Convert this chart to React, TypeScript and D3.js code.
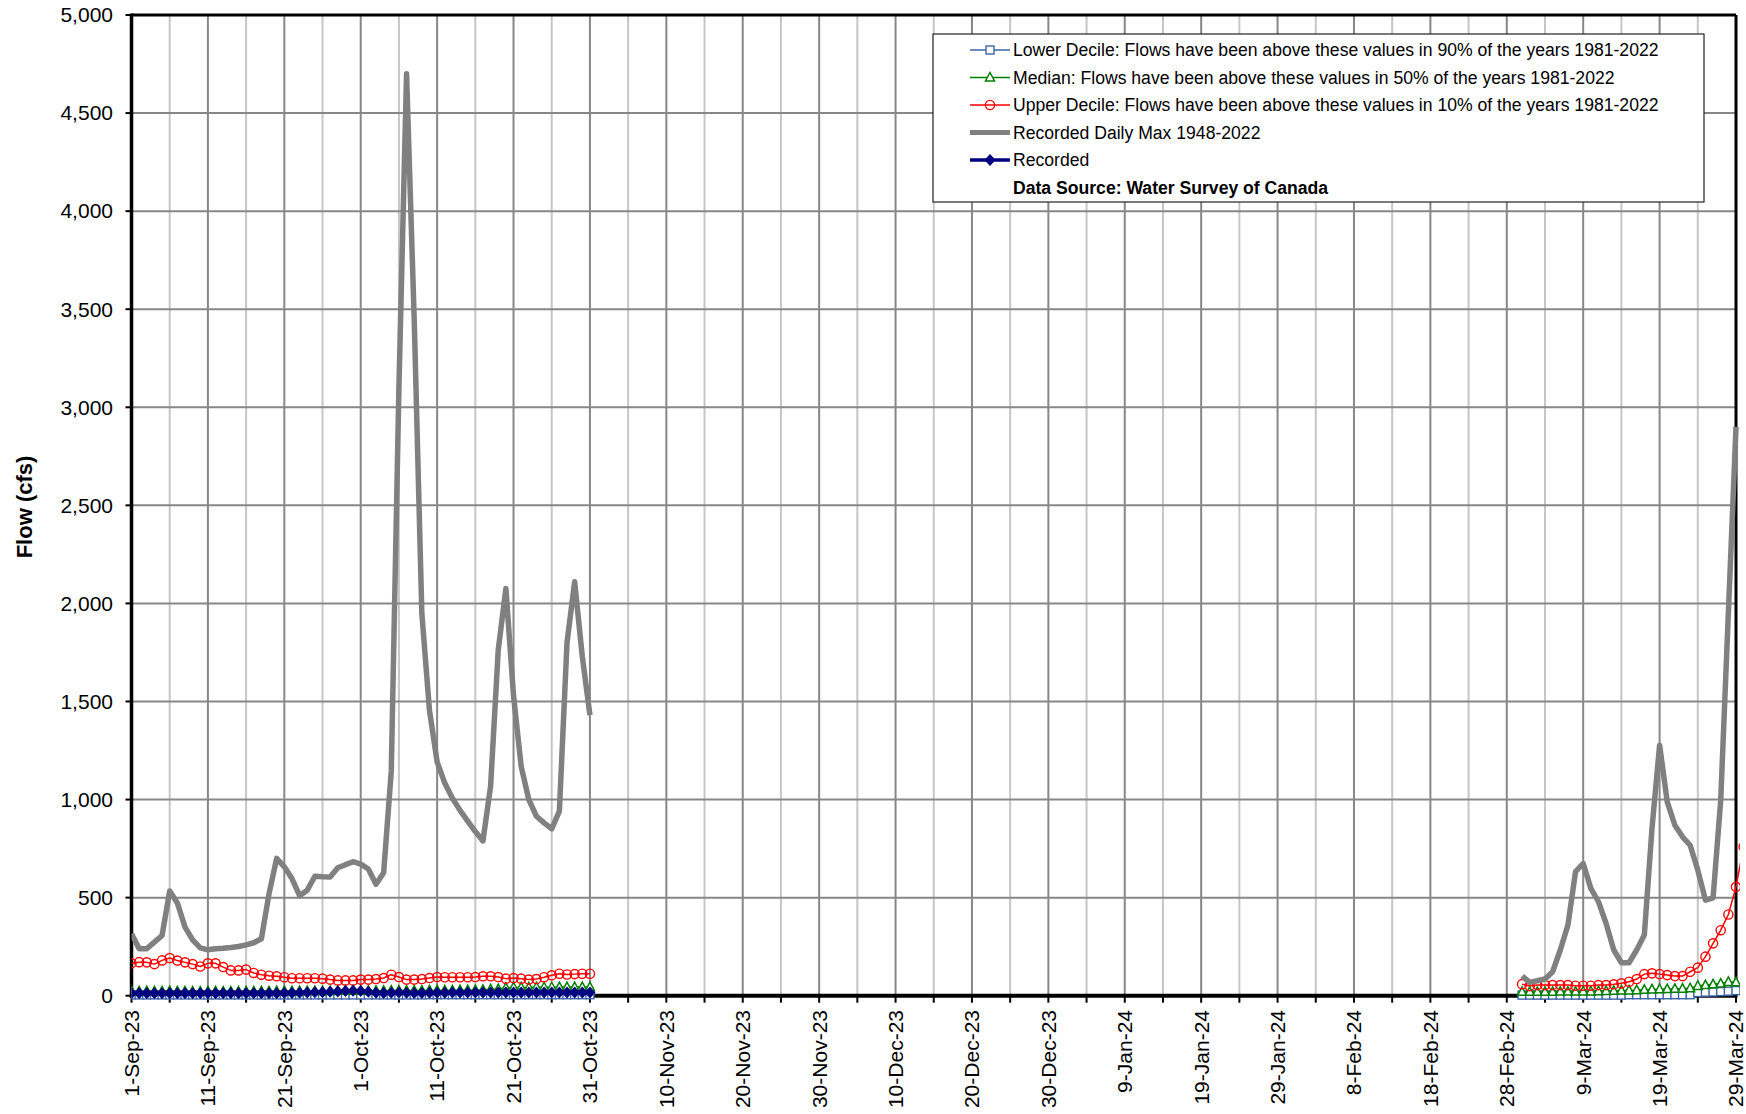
import React from 'react'
import * as d3 from 'd3'

// daily flows, fall block starts 1-Sep-23, spring block starts 1-Mar-24
const fallStart = new Date(2023, 8, 1)
const springStart = new Date(2024, 2, 1)

const maxFall = [316, 240, 240, 273, 307, 534, 473, 350, 285, 244, 234, 239, 242, 246, 251, 259, 270, 290, 520, 700, 657, 597, 510, 538, 609, 606, 605, 652, 668, 683, 671, 646, 568, 627, 1146, 3100, 4700, 3450, 1950, 1454, 1192, 1084, 1007, 945, 890, 837, 789, 1068, 1763, 2076, 1530, 1169, 1000, 915, 881, 851, 941, 1800, 2110, 1730, 1430]
const upperFall = [165, 171, 170, 161, 180, 192, 179, 170, 161, 149, 165, 165, 146, 129, 129, 133, 116, 107, 102, 99, 94, 89, 89, 89, 89, 87, 82, 78, 78, 78, 82, 82, 85, 90, 107, 95, 82, 82, 85, 90, 95, 94, 94, 94, 94, 95, 99, 99, 95, 87, 90, 87, 82, 85, 94, 104, 112, 108, 110, 112, 112]
const medianFall = [22, 22, 23, 22, 22, 23, 22, 22, 21, 21, 22, 22, 21, 21, 21, 22, 22, 22, 22, 23, 23, 23, 23, 24, 24, 24, 24, 25, 25, 25, 25, 25, 25, 25, 26, 26, 26, 26, 26, 27, 27, 27, 27, 28, 28, 28, 30, 32, 34, 40, 42, 42, 42, 43, 43, 43, 44, 44, 44, 44, 44]
const lowerFall = [4, 4, 4, 4, 4, 4, 4, 4, 4, 4, 4, 4, 4, 4, 4, 4, 4, 4, 4, 4, 4, 4, 4, 4, 4, 4, 4, 4, 4, 4, 4, 4, 4, 4, 4, 4, 4, 4, 4, 5, 5, 5, 5, 5, 5, 5, 5, 5, 5, 5, 5, 5, 5, 5, 5, 5, 5, 5, 5, 5, 5]
const recordedFall = [12, 12, 12, 12, 12, 12, 12, 12, 12, 12, 12, 12, 12, 12, 12, 12, 13, 13, 13, 13, 14, 14, 15, 16, 17, 18, 20, 22, 24, 25, 24, 20, 15, 14, 15, 16, 15, 14, 14, 15, 15, 15, 16, 16, 16, 16, 16, 16, 16, 16, 16, 16, 16, 16, 16, 16, 16, 16, 16, 16, 16]

const maxSpring = [100, 68, 76, 85, 122, 233, 360, 632, 674, 547, 479, 368, 233, 168, 168, 233, 309, 850, 1277, 988, 869, 810, 767, 640, 487, 499, 997, 1950, 2900]
const upperSpring = [59, 49, 54, 54, 54, 54, 54, 51, 51, 51, 54, 54, 58, 63, 71, 85, 110, 114, 110, 105, 100, 100, 122, 143, 199, 267, 334, 414, 555, 760]
const medianSpring = [20, 20, 20, 20, 20, 21, 21, 21, 22, 22, 23, 24, 25, 26, 27, 28, 30, 32, 33, 34, 35, 36, 38, 50, 54, 58, 62, 70, 68]
const lowerSpring = [3, 3, 3, 3, 3, 3, 3, 3, 3, 3, 3, 3, 3, 3, 5, 5, 5, 5, 5, 5, 5, 5, 5, 16, 18, 19, 21, 23, 26]

const yTicks = [0, 500, 1000, 1500, 2000, 2500, 3000, 3500, 4000, 4500, 5000]

const legendItems = [
  'Lower Decile: Flows have been above these values in 90% of the years 1981-2022',
  'Median: Flows have been above these values in 50% of the years 1981-2022',
  'Upper Decile: Flows have been above these values in 10% of the years 1981-2022',
  'Recorded Daily Max 1948-2022',
  'Recorded',
]

type Pt = [Date, number]
const toPts = (start: Date, vals: number[]): Pt[] => vals.map((v, i) => [d3.timeDay.offset(start, i), v])

const W = 1746
const H = 1114
const left = 131.5
const right = 1736
const top = 15
const bottom = 995.7
const font = 'Arial, "Liberation Sans", sans-serif'

const BLUE = '#3B64A8'
const GREEN = '#008000'
const RED = '#FF0000'
const GRAY = '#808080'
const NAVY = '#000080'

export default function App() {
  const endDate = new Date(2024, 2, 29)
  const x = d3.scaleTime().domain([fallStart, endDate]).range([left, right])
  const y = d3.scaleLinear().domain([0, 5000]).range([bottom, top])
  const line = d3.line<Pt>().x(d => x(d[0])).y(d => y(d[1]))

  const dayTicks = d3.timeDay.range(fallStart, d3.timeDay.offset(endDate, 1), 5)
  const fmt = d3.timeFormat('%-d-%b-%y')

  const series = [
    { key: 'lower', color: BLUE, width: 1.5, marker: 'square', parts: [toPts(fallStart, lowerFall), toPts(springStart, lowerSpring)] },
    { key: 'median', color: GREEN, width: 1.5, marker: 'triangle', parts: [toPts(fallStart, medianFall), toPts(springStart, medianSpring)] },
    { key: 'upper', color: RED, width: 1.5, marker: 'circle', parts: [toPts(fallStart, upperFall), toPts(springStart, upperSpring)] },
    { key: 'max', color: GRAY, width: 5.5, marker: 'none', parts: [toPts(fallStart, maxFall), toPts(springStart, maxSpring)] },
    { key: 'rec', color: NAVY, width: 3.5, marker: 'diamond', parts: [toPts(fallStart, recordedFall)] },
  ]

  const marker = (kind: string, color: string, cx: number, cy: number, k: string) => {
    if (kind === 'square') return <rect key={k} x={cx - 4} y={cy - 4} width={8} height={8} fill="white" stroke={color} strokeWidth={1.4} />
    if (kind === 'triangle') return <path key={k} d={`M${cx},${cy - 5}L${cx + 4.5},${cy + 3.5}L${cx - 4.5},${cy + 3.5}Z`} fill="white" stroke={color} strokeWidth={1.5} />
    if (kind === 'circle') return <circle key={k} cx={cx} cy={cy} r={4.6} fill="none" stroke={color} strokeWidth={1.4} />
    if (kind === 'diamond') return <path key={k} d={`M${cx},${cy - 6}L${cx + 5.5},${cy}L${cx},${cy + 6}L${cx - 5.5},${cy}Z`} fill={color} />
    return null
  }

  return (
    <svg width={W} height={H} style={{ position: 'absolute', left: 0, top: 0, background: 'white' }} fontFamily={font}>
      <defs>
        <clipPath id="plot">
          <rect x={left} y={top - 3} width={right - left + 4} height={bottom - top + 10} />
        </clipPath>
      </defs>
      <rect x={0} y={0} width={W} height={H} fill="white" />

      {/* grid */}
      {dayTicks.map((d, i) => (
        <line key={'vg' + i} x1={x(d)} x2={x(d)} y1={top} y2={bottom} stroke={i % 2 === 0 ? '#878787' : '#c6c6c6'} strokeWidth={2} />
      ))}
      {yTicks.map(t => (
        <line key={'hg' + t} x1={left} x2={right} y1={y(t)} y2={y(t)} stroke="#878787" strokeWidth={2} />
      ))}

      {/* frame */}
      <line x1={left} x2={right} y1={top} y2={top} stroke="black" strokeWidth={3} />
      <line x1={right} x2={right} y1={top} y2={bottom} stroke="black" strokeWidth={3} />
      <line x1={left - 1} x2={right + 1.5} y1={bottom} y2={bottom} stroke="black" strokeWidth={4} />
      <line x1={left} x2={left} y1={top - 1.5} y2={bottom + 2} stroke="black" strokeWidth={3.5} />

      {/* axes */}
      {yTicks.map(t => (
        <g key={'yt' + t}>
          <line x1={left - 6} x2={left} y1={y(t)} y2={y(t)} stroke="black" strokeWidth={2} />
          <text x={113} y={y(t)} dy="0.35em" textAnchor="end" fontSize={21}>{d3.format(',')(t)}</text>
        </g>
      ))}
      {dayTicks.map((d, i) => (
        <line key={'xt' + i} x1={x(d)} x2={x(d)} y1={bottom} y2={bottom + 7} stroke="black" strokeWidth={2} />
      ))}
      {dayTicks.filter((_, i) => i % 2 === 0).map((d, i) => (
        <text key={'xl' + i} transform={`translate(${x(d)},1010) rotate(-90)`} dy="0.35em" textAnchor="end" fontSize={21}>{fmt(d)}</text>
      ))}
      <text transform="translate(24,507) rotate(-90)" textAnchor="middle" dy="0.35em" fontSize={22} fontWeight="bold">Flow (cfs)</text>

      {/* series */}
      <g clipPath="url(#plot)">
        {series.map(s => (
          <g key={s.key}>
            {s.parts.map((p, j) => (
              <path key={j} d={line(p) || ''} fill="none" stroke={s.color} strokeWidth={s.width} strokeLinejoin="round" />
            ))}
            {s.parts.map((p, j) => p.map((d, i) => marker(s.marker, s.color, x(d[0]), y(d[1]), `${j}-${i}`)))}
          </g>
        ))}
      </g>

      {/* legend */}
      <g>
        <rect x={933} y={34} width={771} height={168} fill="white" stroke="#222" strokeWidth={1.2} />
        {series.map((s, i) => {
          const cy = 50 + i * 27.5
          return (
            <g key={'lg' + s.key}>
              <line x1={970} x2={1010} y1={cy} y2={cy} stroke={s.color} strokeWidth={s.key === 'max' ? 5 : s.key === 'rec' ? 3.5 : 1.5} />
              {marker(s.marker, s.color, 990, cy, 'm')}
              <text x={1013} y={cy} dy="0.35em" fontSize={17.6}>{legendItems[i]}</text>
            </g>
          )
        })}
        <text x={1013} y={187.5} dy="0.35em" fontSize={17.6} fontWeight="bold">Data Source: Water Survey of Canada</text>
      </g>
    </svg>
  )
}
